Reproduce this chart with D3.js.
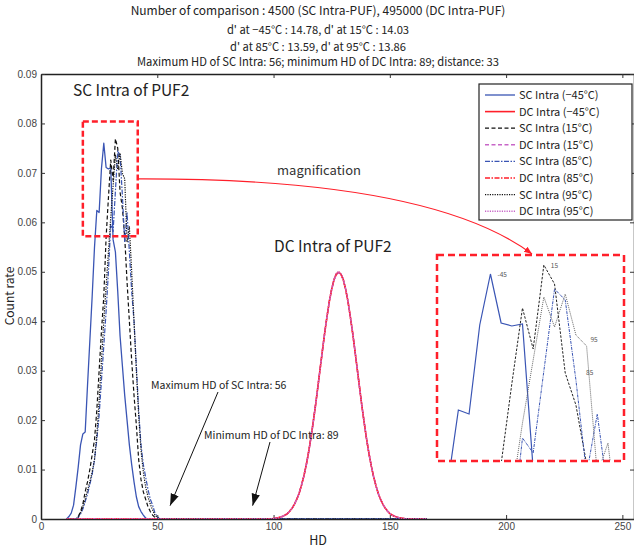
<!DOCTYPE html>
<html>
<head>
<meta charset="utf-8">
<script src="https://cdn.jsdelivr.net/npm/d3@7"></script>
<style>
body { margin: 0; background: #fff; }
svg { font-family: "Noto Sans CJK JP", "Noto Sans", sans-serif; }
</style>
</head>
<body>
<svg id="chart" width="634" height="550"></svg>
<script>
// title lines
var titleLines = [
	"Number of comparison : 4500 (SC Intra-PUF), 495000 (DC Intra-PUF)",
	"d' at \u221245\u00b0C : 14.78, d' at 15\u00b0C : 14.03",
	"d' at 85\u00b0C : 13.59, d' at 95\u00b0C : 13.86",
	"Maximum HD of SC Intra: 56; minimum HD of DC Intra: 89; distance: 33"
];

var xTicks = [0, 50, 100, 150, 200, 250];
var yTicks = [0, 0.01, 0.02, 0.03, 0.04, 0.05, 0.06, 0.07, 0.08, 0.09];

// HD range covered by every histogram
var hdFirst = 11, hdLast = 166;

// SC intra histograms (first HD of each array given separately)
var scM45Start = 12;
var scM45 = [0.0005, 0.0012, 0.0028, 0.0065, 0.0105, 0.015, 0.0172, 0.0176, 0.027, 0.036,
	0.045, 0.0549, 0.0624, 0.062, 0.0709, 0.076, 0.0711, 0.0708, 0.071, 0.0565,
	0.054, 0.046, 0.037, 0.031, 0.025, 0.02, 0.015, 0.011, 0.0075, 0.0045,
	0.0025, 0.0015, 0.0008, 0.0002];

var sc15Start = 16;
var sc15 = [0.0005, 0.0015, 0.003, 0.0055, 0.0075, 0.01, 0.013, 0.016, 0.022, 0.03,
	0.038, 0.045, 0.057, 0.065, 0.0726, 0.0685, 0.0769, 0.075, 0.0661, 0.0629,
	0.057, 0.048, 0.04, 0.032, 0.025, 0.019, 0.012, 0.008, 0.0055, 0.004,
	0.0025, 0.0015, 0.0008, 0.0003];

var sc85Start = 16;
var sc85 = [0.0003, 0.001, 0.002, 0.0035, 0.005, 0.007, 0.009, 0.012, 0.016, 0.021,
	0.028, 0.035, 0.042, 0.05, 0.0596, 0.0581, 0.0663, 0.0745, 0.0734, 0.0654,
	0.056, 0.062, 0.054, 0.046, 0.04, 0.031, 0.022, 0.015, 0.011, 0.0085,
	0.006, 0.004, 0.0028, 0.0012, 0.0005];

var sc95Start = 16;
var sc95 = [0.0004, 0.0012, 0.0025, 0.004, 0.0058, 0.0075, 0.0095, 0.012, 0.017, 0.024,
	0.032, 0.04, 0.047, 0.054, 0.0611, 0.0674, 0.0737, 0.0707, 0.074, 0.0699,
	0.0688, 0.056, 0.0591, 0.05, 0.04, 0.03, 0.021, 0.014, 0.0095, 0.0065,
	0.0045, 0.003, 0.0018, 0.0008, 0.0003];

// DC intra histograms, HD 100 .. 156
var dcStart = 100;
var dcM45 = [0.00011, 0.00017, 0.00025, 0.00038, 0.00055, 0.0008, 0.0011, 0.0016, 0.0022, 0.003,
	0.004, 0.0052, 0.0068, 0.0086, 0.0108, 0.0133, 0.0162, 0.0194, 0.0228, 0.0265,
	0.0303, 0.034, 0.0377, 0.041, 0.044, 0.0465, 0.0484, 0.0495, 0.0499, 0.0495,
	0.0484, 0.0465, 0.044, 0.041, 0.0377, 0.034, 0.0303, 0.0265, 0.0228, 0.0194,
	0.0162, 0.0133, 0.0108, 0.0086, 0.0068, 0.0052, 0.004, 0.003, 0.0022, 0.0016,
	0.0011, 0.0008, 0.00055, 0.00038, 0.00025, 0.00017, 0.00011];
var dc15 = [0.00011, 0.00017, 0.00026, 0.00038, 0.00056, 0.0008, 0.0011, 0.0016, 0.0022, 0.003,
	0.004, 0.0052, 0.0068, 0.0086, 0.0107, 0.0132, 0.0161, 0.0194, 0.0229, 0.0266,
	0.0303, 0.0341, 0.0377, 0.041, 0.0439, 0.0464, 0.0483, 0.0494, 0.0498, 0.0496,
	0.0485, 0.0465, 0.0441, 0.041, 0.0377, 0.0341, 0.0303, 0.0265, 0.0228, 0.0195,
	0.0162, 0.0133, 0.0108, 0.0086, 0.0068, 0.0052, 0.004, 0.003, 0.0022, 0.0016,
	0.0011, 0.0008, 0.00055, 0.00038, 0.00025, 0.00017, 0.00011];
var dc85 = [0.00011, 0.00017, 0.00025, 0.00037, 0.00054, 0.0008, 0.0011, 0.0016, 0.0022, 0.003,
	0.004, 0.0052, 0.0068, 0.0087, 0.0108, 0.0134, 0.0163, 0.0195, 0.0229, 0.0265,
	0.0302, 0.034, 0.0376, 0.041, 0.0441, 0.0466, 0.0484, 0.0496, 0.05, 0.0495,
	0.0483, 0.0464, 0.044, 0.0409, 0.0376, 0.034, 0.0303, 0.0266, 0.0229, 0.0194,
	0.0161, 0.0133, 0.0108, 0.0086, 0.0068, 0.0052, 0.004, 0.003, 0.0022, 0.0016,
	0.0011, 0.0008, 0.00055, 0.00038, 0.00025, 0.00017, 0.00011];
var dc95 = [0.00011, 0.00017, 0.00025, 0.00038, 0.00055, 0.0008, 0.0011, 0.0016, 0.0022, 0.003,
	0.004, 0.0053, 0.0068, 0.0086, 0.0108, 0.0133, 0.0162, 0.0193, 0.0228, 0.0264,
	0.0302, 0.0339, 0.0376, 0.0411, 0.044, 0.0466, 0.0485, 0.0497, 0.0501, 0.0496,
	0.0484, 0.0466, 0.0441, 0.041, 0.0378, 0.0341, 0.0302, 0.0265, 0.0227, 0.0194,
	0.0162, 0.0134, 0.0108, 0.0087, 0.0068, 0.0052, 0.004, 0.003, 0.0022, 0.0016,
	0.0011, 0.0008, 0.00055, 0.00038, 0.00025, 0.00017, 0.00011];

var legendLabels = ["SC Intra (\u221245\u00b0C)", "DC Intra (\u221245\u00b0C)", "SC Intra (15\u00b0C)", "DC Intra (15\u00b0C)",
	"SC Intra (85\u00b0C)", "DC Intra (85\u00b0C)", "SC Intra (95\u00b0C)", "DC Intra (95\u00b0C)"];

var maxSC = 56, minDC = 89;
// region that is magnified in the inset: HD range and count-rate range
var zoomHD = [18, 41.6], zoomRate = [0.0572, 0.0804];
// inset axes domain
var insetHD = [22, 39.5], insetRate = [0.0573, 0.0779];
var insetLabels = [{t: "-45", hd: 27, v: 0.076}, {t: "15", hd: 32, v: 0.0769}, {t: "95", hd: 35.7, v: 0.0695}, {t: "85", hd: 35.3, v: 0.0662}];


var BLUE = "#3a55b4", RED = "#ff1f2a", MAG = "#c866c8";

function expand(start, vals) {
	var pts = [];
	for (var hd = hdFirst; hd <= hdLast; hd++) {
		var i = hd - start;
		pts.push([hd, (i >= 0 && i < vals.length) ? vals[i] : 0]);
	}
	return pts;
}

var series = [
	{name: legendLabels[0], data: expand(scM45Start, scM45), color: BLUE, dash: null, w: 1.3, sc: true},
	{name: legendLabels[1], data: expand(dcStart, dcM45), color: RED, dash: null, w: 1.6},
	{name: legendLabels[2], data: expand(sc15Start, sc15), color: "#111", dash: "4,2.5", w: 1.2, sc: true},
	{name: legendLabels[3], data: expand(dcStart, dc15), color: MAG, dash: "4,2.5", w: 1.4},
	{name: legendLabels[4], data: expand(sc85Start, sc85), color: BLUE, dash: "5,1.5,1.5,1.5", w: 1.2, sc: true},
	{name: legendLabels[5], data: expand(dcStart, dc85), color: RED, dash: "5,1.5,1.5,1.5", w: 1.4},
	{name: legendLabels[6], data: expand(sc95Start, sc95), color: "#111", dash: "1.2,1.2", w: 1.2, sc: true},
	{name: legendLabels[7], data: expand(dcStart, dc95), color: MAG, dash: "1.2,1.2", w: 1.4}
];

var svg = d3.select("#chart");
var pLeft = 41, pRight = 634, pTop = 74, pBottom = 519;

var x = d3.scaleLinear().domain([0, 255]).range([pLeft, pRight]);
var y = d3.scaleLinear().domain([0, 0.09]).range([pBottom, pTop]);

// title
svg.append("g").selectAll("text")
	.data(titleLines)
	.enter().append("text")
	.attr("x", 318)
	.attr("y", function(d, i) { return [15, 34, 51, 66][i]; })
	.attr("text-anchor", "middle")
	.attr("font-size", function(d, i) { return i === 0 ? 12 : 11.2; })
	.attr("fill", "#222")
	.text(function(d) { return d; });

// axes: MATLAB style, ticks pointing inward on all four sides
var axG = svg.append("g").attr("font-size", 6.8).attr("fill", "#444");
axG.append("g")
	.attr("transform", "translate(0," + pBottom + ")")
	.call(d3.axisBottom(x).tickValues(xTicks).tickSizeInner(-4).tickSizeOuter(0).tickPadding(4).tickFormat(d3.format("d")));
axG.append("g")
	.attr("transform", "translate(0," + pTop + ")")
	.call(d3.axisTop(x).tickValues(xTicks).tickSizeInner(-4).tickSizeOuter(0).tickFormat(""));
axG.append("g")
	.attr("transform", "translate(" + pLeft + ",0)")
	.call(d3.axisLeft(y).tickValues(yTicks).tickSizeInner(-4).tickSizeOuter(0).tickPadding(4).tickFormat(function(d) { return d === 0 ? "0" : d3.format(".2f")(d); }));
axG.append("g")
	.attr("transform", "translate(" + pRight + ",0)")
	.call(d3.axisRight(y).tickValues(yTicks).tickSizeInner(-4).tickSizeOuter(0).tickFormat(""));
axG.selectAll(".domain").attr("stroke", "#222").attr("stroke-width", 1.5);
axG.selectAll(".tick line").attr("stroke", "#333");
axG.selectAll("text").attr("font-family", "Liberation Sans, Arial, sans-serif").attr("fill", "#444");

svg.append("text")
	.attr("x", 318).attr("y", 545)
	.attr("text-anchor", "middle")
	.attr("font-size", 12.5)
	.attr("fill", "#222")
	.text("HD");
svg.append("text")
	.attr("transform", "translate(14,296) rotate(-90)")
	.attr("text-anchor", "middle")
	.attr("font-size", 12)
	.attr("fill", "#222")
	.text("Count rate");

// clip paths
var defs = svg.append("defs");
defs.append("clipPath").attr("id", "plotClip").append("rect")
	.attr("x", pLeft).attr("y", pTop).attr("width", pRight - pLeft).attr("height", pBottom - pTop);

var line = d3.line()
	.x(function(d) { return x(d[0]); })
	.y(function(d) { return y(d[1]); });

var plot = svg.append("g").attr("clip-path", "url(#plotClip)");
series.forEach(function(s) {
	plot.append("path")
		.datum(s.data)
		.attr("fill", "none")
		.attr("stroke", s.color)
		.attr("stroke-width", s.w)
		.attr("stroke-dasharray", s.dash)
		.attr("stroke-linejoin", "round")
		.attr("d", line);
});

// magnified region box
var zx0 = x(zoomHD[0]), zx1 = x(zoomHD[1]), zy0 = y(zoomRate[1]), zy1 = y(zoomRate[0]);
svg.append("rect")
	.attr("x", zx0).attr("y", zy0).attr("width", zx1 - zx0).attr("height", zy1 - zy0)
	.attr("fill", "none").attr("stroke", RED).attr("stroke-width", 2.5).attr("stroke-dasharray", "6,3");

// inset
var xi = d3.scaleLinear().domain(insetHD).range([437, 624]);
var yi = d3.scaleLinear().domain(insetRate).range([461, 255]);
defs.append("clipPath").attr("id", "insetClip").append("rect")
	.attr("x", 437).attr("y", 255).attr("width", 187).attr("height", 206);
var lineI = d3.line()
	.x(function(d) { return xi(d[0]); })
	.y(function(d) { return yi(d[1]); });
var inset = svg.append("g").attr("clip-path", "url(#insetClip)");
var insetStyle = [
	{color: BLUE, dash: null, w: 1.2},
	{color: "#222", dash: "2.5,1.5", w: 1},
	{color: BLUE, dash: "3,1,1,1", w: 1},
	{color: "#666", dash: "1,1", w: 1}
];
series.filter(function(s) { return s.sc; }).forEach(function(s, i) {
	inset.append("path")
		.datum(s.data)
		.attr("fill", "none")
		.attr("stroke", insetStyle[i].color)
		.attr("stroke-width", insetStyle[i].w)
		.attr("stroke-dasharray", insetStyle[i].dash)
		.attr("d", lineI);
});
svg.append("g").selectAll("text")
	.data(insetLabels)
	.enter().append("text")
	.attr("x", function(d) { return xi(d.hd) + 7; })
	.attr("y", function(d) { return yi(d.v) + 3; })
	.attr("font-size", 6.5)
	.attr("fill", "#555")
	.text(function(d) { return d.t; });
svg.append("rect")
	.attr("x", 437).attr("y", 255).attr("width", 187).attr("height", 206)
	.attr("fill", "none").attr("stroke", RED).attr("stroke-width", 2.5).attr("stroke-dasharray", "7,4");

// magnification arrow
defs.append("marker").attr("id", "redHead")
	.attr("viewBox", "0 0 10 10").attr("refX", 10).attr("refY", 5)
	.attr("markerWidth", 8).attr("markerHeight", 8).attr("orient", "auto")
	.attr("markerUnits", "userSpaceOnUse")
	.append("path").attr("d", "M0,1 L10,5 L0,9 Z").attr("fill", RED);
svg.append("path")
	.attr("d", "M" + zx1 + "," + ((zy0 + zy1) / 2) + " Q430,178 532,254")
	.attr("fill", "none").attr("stroke", RED).attr("stroke-width", 1.2)
	.attr("marker-end", "url(#redHead)");
svg.append("text").attr("x", 319).attr("y", 175).attr("text-anchor", "middle")
	.attr("font-size", 13).attr("fill", "#333").text("magnification");

svg.append("text").attr("x", 73).attr("y", 96).attr("font-size", 15.5).attr("fill", "#222").text("SC Intra of PUF2");
svg.append("text").attr("x", 274).attr("y", 252).attr("font-size", 15.5).attr("fill", "#222").text("DC Intra of PUF2");

// HD annotations
defs.append("marker").attr("id", "blackHead")
	.attr("viewBox", "0 0 10 10").attr("refX", 10).attr("refY", 5)
	.attr("markerWidth", 12).attr("markerHeight", 12).attr("orient", "auto")
	.attr("markerUnits", "userSpaceOnUse")
	.append("path").attr("d", "M0,1.5 L10,5 L0,8.5 Z").attr("fill", "#111");
var notes = [
	{t: "Maximum HD of SC Intra: " + maxSC, tx: 151, ty: 389, x0: 218, y0: 392, hd: maxSC - 0.5},
	{t: "Minimum HD of DC Intra: " + minDC, tx: 204, ty: 439, x0: 270, y0: 442, hd: minDC + 2}
];
notes.forEach(function(n) {
	svg.append("text").attr("x", n.tx).attr("y", n.ty).attr("font-size", 10.5).attr("fill", "#222").text(n.t);
	svg.append("line")
		.attr("x1", n.x0).attr("y1", n.y0)
		.attr("x2", x(n.hd)).attr("y2", y(0.0027))
		.attr("stroke", "#111").attr("stroke-width", 1)
		.attr("marker-end", "url(#blackHead)");
});

// legend
var lg = svg.append("g").attr("transform", "translate(479,84)");
lg.append("rect").attr("width", 153).attr("height", 136)
	.attr("fill", "#fff").attr("stroke", "#222").attr("stroke-width", 1.2);
series.forEach(function(s, i) {
	var yy = 11 + i * 16.6;
	lg.append("line").attr("x1", 6).attr("x2", 36).attr("y1", yy).attr("y2", yy)
		.attr("stroke", s.color).attr("stroke-width", s.w).attr("stroke-dasharray", s.dash);
	lg.append("text").attr("x", 40).attr("y", yy + 4).attr("font-size", 11).attr("fill", "#222").text(s.name);
});
</script>
</body>
</html>
